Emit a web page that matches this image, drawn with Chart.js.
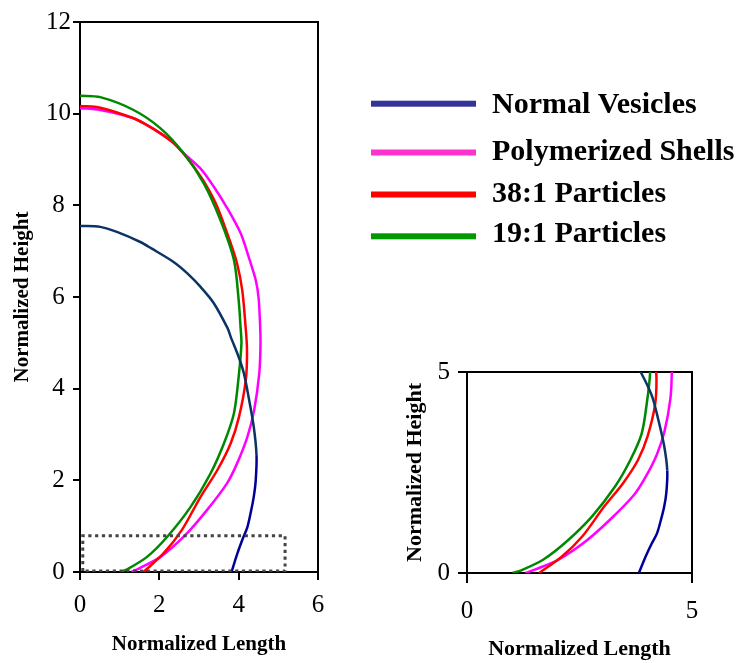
<!DOCTYPE html>
<html><head><meta charset="utf-8">
<script src="https://cdn.jsdelivr.net/npm/chart.js@4.4.0/dist/chart.umd.min.js"></script>
<style>
html,body{margin:0;padding:0;background:#fff;}
#wrap{position:relative;width:741px;height:663px;background:#fff;}
canvas{position:absolute;left:0;top:0;}
</style></head><body>
<div id="wrap"><canvas id="main" width="741" height="663"></canvas><canvas id="inset" width="741" height="663"></canvas></div>
<script>
// ---- data ----
const seriesNames = ['Normal Vesicles', 'Polymerized Shells', '38:1 Particles', '19:1 Particles'];

const normalX = [0, 0.51, 0.93, 1.52, 1.8, 2.35, 2.7, 3.04, 3.37, 3.72, 3.8, 4.0, 4.13, 4.25, 4.38, 4.45, 4.43, 4.38, 4.3, 4.22, 4.1, 3.97, 3.82];
const normalY = [7.55, 7.53, 7.42, 7.2, 7.06, 6.77, 6.52, 6.22, 5.87, 5.32, 5.13, 4.69, 4.34, 3.82, 3.17, 2.55, 2.0, 1.64, 1.28, 0.98, 0.72, 0.41, 0];

const shellX = [0, 0.51, 1.35, 1.69, 2.03, 2.36, 2.57, 3.04, 3.37, 3.71, 4.05, 4.25, 4.43, 4.5, 4.54, 4.55, 4.52, 4.39, 4.22, 3.96, 3.71, 3.2, 2.66, 2.03, 1.52, 1.3];
const shellY = [10.12, 10.08, 9.9, 9.75, 9.57, 9.36, 9.17, 8.8, 8.41, 7.94, 7.39, 6.88, 6.37, 6.0, 5.4, 4.95, 4.34, 3.53, 2.95, 2.37, 1.94, 1.35, 0.81, 0.33, 0.09, 0];

const p38X = [0, 0.51, 1.35, 1.69, 2.03, 2.36, 2.57, 2.87, 3.2, 3.46, 3.8, 3.96, 4.09, 4.17, 4.21, 4.18, 4.01, 3.8, 3.46, 3.04, 2.57, 2.11, 1.6];
const p38Y = [10.17, 10.13, 9.9, 9.75, 9.57, 9.36, 9.17, 8.84, 8.41, 7.97, 7.17, 6.73, 6.15, 5.4, 4.85, 4.19, 3.39, 2.81, 2.22, 1.64, 0.92, 0.41, 0];

const p19X = [0, 0.51, 1.35, 2.03, 2.61, 3.12, 3.54, 3.88, 4.0, 4.05, 4.07, 4.0, 3.88, 3.63, 3.29, 2.78, 2.2, 1.69, 1.19, 1.01];
const p19Y = [10.39, 10.36, 10.08, 9.68, 9.14, 8.48, 7.68, 6.81, 5.93, 5.31, 4.99, 4.26, 3.46, 2.81, 2.15, 1.41, 0.77, 0.33, 0.06, 0];

// dotted zoom box (in data units)
const boxX = [0.07, 0.07, 5.17, 5.17, 0.07];
const boxY = [0.02, 0.79, 0.79, 0.02, 0.02];

const mainXTicks = [0, 2, 4, 6];
const mainYTicks = [0, 2, 4, 6, 8, 10, 12];
const insetXTicks = [0, 5];
const insetYTicks = [0, 5];

// ---- helpers ----
const FONT = "'Liberation Serif', 'Times New Roman', serif";
Chart.defaults.font.family = FONT;
Chart.defaults.color = '#000';

const pts = (xs, ys) => xs.map((x, i) => ({x: x, y: ys[i]}));

function curveSets(withBox) {
  const sets = [
    {label: seriesNames[0], data: pts(normalX, normalY), showLine: true, borderColor: '#003366', borderWidth: 2.5, order: 1, tension: 0.3,
     segment: {borderColor: c => ((c.p0.parsed.y + c.p1.parsed.y) / 2 < 2.55 ? '#000099' : '#0a3466')}},
    {label: seriesNames[1], data: pts(shellX, shellY), showLine: true, borderColor: '#ff00ff', borderWidth: 2.5, order: 4, tension: 0.3},
    {label: seriesNames[2], data: pts(p38X, p38Y), showLine: true, borderColor: '#ff0000', borderWidth: 2.5, order: 3, tension: 0.3},
    {label: seriesNames[3], data: pts(p19X, p19Y), showLine: true, borderColor: '#008800', borderWidth: 2.5, order: 2, tension: 0.3}
  ];
  if (withBox) {
    sets.push({label: 'box', data: pts(boxX, boxY), showLine: true, borderColor: '#444444', borderWidth: 3,
      borderDash: [3.2, 3.6], order: 0, tension: 0});
  }
  return sets;
}

const framePlugin = {
  id: 'frame',
  beforeDatasetsDraw(chart) {
    const a = chart.chartArea, ctx = chart.ctx;
    ctx.save();
    ctx.strokeStyle = '#000';
    ctx.lineWidth = 2;
    ctx.strokeRect(a.left, a.top, a.right - a.left, a.bottom - a.top);
    ctx.restore();
  }
};

const legendColors = ['#333399', '#ff33cc', '#ff0000', '#009900'];
const legendPlugin = {
  id: 'sideLegend',
  afterDraw(chart) {
    const ctx = chart.ctx;
    const lineY = [103.7, 152.5, 194.5, 236.3];
    const baseY = [113.3, 160, 201.7, 241.7];
    ctx.save();
    ctx.font = "bold 30px " + FONT;
    ctx.textBaseline = 'alphabetic';
    ctx.textAlign = 'left';
    for (let i = 0; i < seriesNames.length; i++) {
      ctx.fillStyle = legendColors[i];
      ctx.fillRect(371, lineY[i] - 3, 105, 6);
      ctx.fillStyle = '#000';
      ctx.fillText(seriesNames[i], 492, baseY[i]);
    }
    ctx.restore();
  }
};

function axis(opts) {
  return {
    type: 'linear', min: opts.min, max: opts.max,
    afterBuildTicks: s => { s.ticks = opts.ticks.map(v => ({value: v})); },
    afterFit: opts.fit,
    grid: {display: true, drawOnChartArea: false, drawTicks: true, tickLength: opts.tl, color: '#000', lineWidth: 2},
    border: {display: true, color: '#000', width: 2},
    ticks: Object.assign({font: {size: opts.tickSize}, padding: opts.tp, maxRotation: 0, color: '#000', autoSkip: false}, opts.tickExtra || {}),
    title: {display: true, text: opts.title, color: '#000', font: {size: opts.titleSize, weight: 'bold'}, padding: opts.titlePad}
  };
}

new Chart(document.getElementById('main'), {
  type: 'scatter',
  data: {datasets: curveSets(true)},
  options: {
    responsive: false, animation: false, devicePixelRatio: 1,
    layout: {padding: {left: 0, top: 22, right: 423, bottom: 0}},
    plugins: {legend: {display: false}, tooltip: {enabled: false}},
    elements: {point: {radius: 0}},
    scales: {
      x: axis({min: 0, max: 6, ticks: mainXTicks, fit: s => { s.height = 91; }, tl: 8, tickSize: 25, tp: 10,
               title: 'Normalized Length', titleSize: 21, titlePad: {top: 0, bottom: 6}}),
      y: axis({min: 0, max: 12, ticks: mainYTicks, fit: s => { s.width = 80; }, tl: 7, tickSize: 25, tp: 2,
               tickExtra: {crossAlign: 'center'},
               title: 'Normalized Height', titleSize: 21, titlePad: {top: 10, bottom: 0}})
    }
  },
  plugins: [framePlugin, legendPlugin]
});

new Chart(document.getElementById('inset'), {
  type: 'scatter',
  data: {datasets: curveSets(false)},
  options: {
    responsive: false, animation: false, devicePixelRatio: 1,
    layout: {padding: {left: 390, top: 372, right: 49, bottom: 0}},
    plugins: {legend: {display: false}, tooltip: {enabled: false}},
    elements: {point: {radius: 0}},
    scales: {
      x: axis({min: 0, max: 5, ticks: insetXTicks, fit: s => { s.height = 90; }, tl: 10, tickSize: 25, tp: 13,
               title: 'Normalized Length', titleSize: 22, titlePad: {top: 0, bottom: 0}}),
      y: axis({min: 0, max: 5, ticks: insetYTicks, fit: s => { s.width = 77; }, tl: 9, tickSize: 25, tp: 8,
               title: 'Normalized Height', titleSize: 22, titlePad: {top: 12, bottom: 0}})
    }
  },
  plugins: [framePlugin]
});
</script>
</body></html>
